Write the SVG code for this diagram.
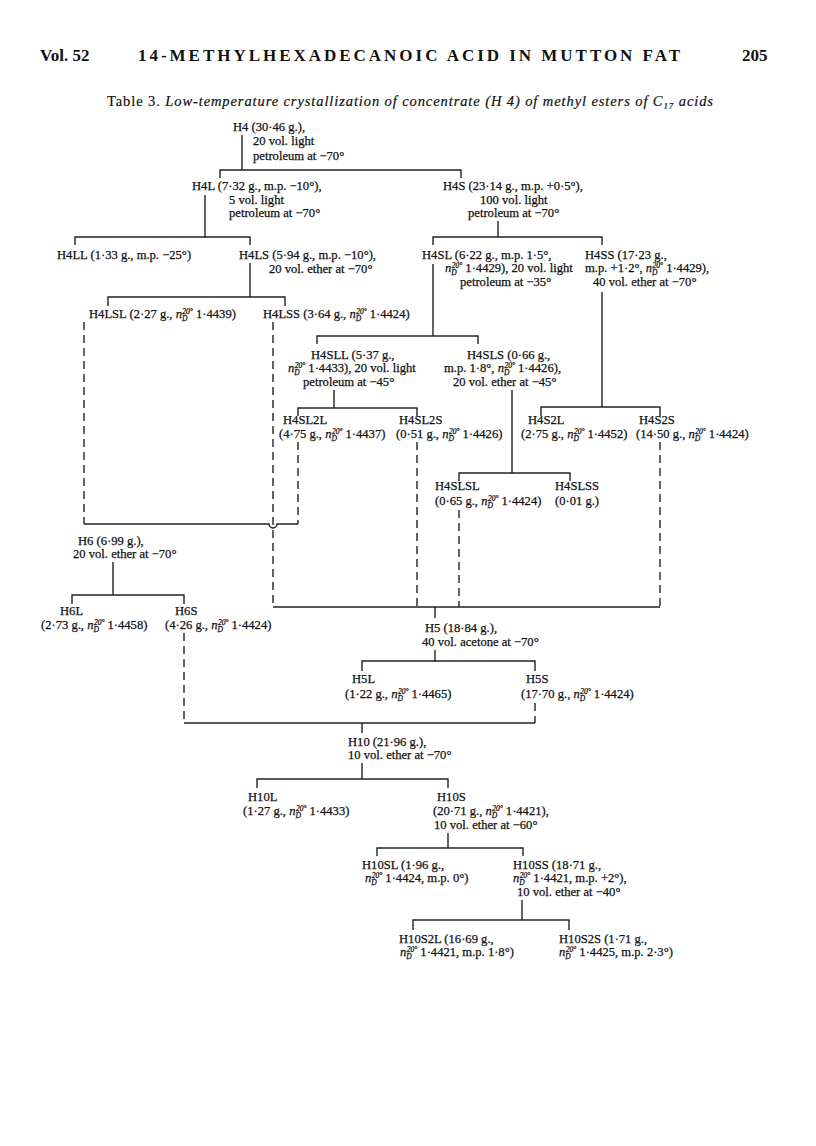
<svg xmlns="http://www.w3.org/2000/svg" width="816" height="1146" viewBox="0 0 816 1146">
<style>
.t{font-family:"Liberation Serif","Times New Roman",serif;font-size:12.6px;fill:#111;stroke:#111;stroke-width:0.25}
.h{font-family:"Liberation Serif","Times New Roman",serif;font-size:17px;font-weight:bold;fill:#111}
.ti{font-family:"Liberation Serif","Times New Roman",serif;font-size:14.5px;fill:#111;stroke:#111;stroke-width:0.2}
.i{font-style:italic}
.s{font-size:7.5px;font-style:italic}
.c line,.c path{stroke:#222;stroke-width:1.4;fill:none}
.c .d{stroke-dasharray:8 5}
</style>
<rect width="816" height="1146" fill="#fff"/>
<g id="header">
<text class="h" x="40" y="61">Vol. 52</text>
<text class="h" x="138" y="61" textLength="542" lengthAdjust="spacing">14-METHYLHEXADECANOIC ACID IN MUTTON FAT</text>
<text class="h" x="742" y="61">205</text>
<text class="ti" x="107" y="106" textLength="606" lengthAdjust="spacing">Table 3. <tspan class="i">Low-temperature crystallization of concentrate (H 4) of methyl esters of C</tspan><tspan class="i" font-size="9" dy="3">17</tspan><tspan class="i" dy="-3"> acids</tspan></text>
</g>
<g id="connectors" class="c">
<line x1="242" y1="135" x2="242" y2="170"/>
<path d="M220,178V170H461V178"/>
<line x1="205" y1="195" x2="205" y2="237"/>
<path d="M75,245V237H250V245"/>
<line x1="498" y1="221" x2="498" y2="237"/>
<path d="M433,245V237H602V245"/>
<line x1="250" y1="263" x2="250" y2="297"/>
<path d="M108,306V297H285V306"/>
<line x1="433" y1="264" x2="433" y2="336"/>
<path d="M317,344V336H478V344"/>
<line x1="602" y1="292" x2="602" y2="407"/>
<path d="M541,416V407H660V416"/>
<line x1="334" y1="390" x2="334" y2="408"/>
<path d="M298,416V408H417V416"/>
<line x1="512" y1="390" x2="512" y2="473"/>
<path d="M459,481V473H570V481"/>
<line class="d" x1="84" y1="322" x2="84" y2="524"/>
<line class="d" x1="273" y1="322" x2="273" y2="607"/>
<line class="d" x1="298" y1="442" x2="298" y2="524"/>
<line class="d" x1="417" y1="442" x2="417" y2="607"/>
<line class="d" x1="459" y1="510" x2="459" y2="607"/>
<line class="d" x1="660" y1="442" x2="660" y2="607"/>
<path d="M84,524H269a4,4 0 0 0 8,0H298"/>
<path d="M273,607H660"/>
<line x1="113" y1="562" x2="113" y2="595"/>
<path d="M72,604V595H184V604"/>
<line class="d" x1="184" y1="633" x2="184" y2="723"/>
<line x1="435" y1="607" x2="435" y2="618"/>
<line x1="435" y1="650" x2="435" y2="661"/>
<path d="M362,671V661H535V671"/>
<line class="d" x1="535" y1="703" x2="535" y2="723"/>
<path d="M184,723H535"/>
<line x1="362" y1="723" x2="362" y2="733"/>
<line x1="362" y1="763" x2="362" y2="779"/>
<path d="M257,788V779H448V788"/>
<line x1="448" y1="833" x2="448" y2="848"/>
<path d="M377,856V848H523V856"/>
<line x1="522" y1="900" x2="522" y2="920"/>
<path d="M413,930V920H569V930"/>
</g>
<g id="H4">
<text class="t" x="233" y="131">H4 (30·46 g.),</text>
<text class="t" x="253" y="145">20 vol. light</text>
<text class="t" x="253" y="160">petroleum at −70°</text>
</g>
<g id="H4L">
<text class="t" x="192" y="190">H4L (7·32 g., m.p. −10°),</text>
<text class="t" x="229" y="204">5 vol. light</text>
<text class="t" x="229" y="217">petroleum at −70°</text>
</g>
<g id="H4S">
<text class="t" x="443" y="190">H4S (23·14 g., m.p. +0·5°),</text>
<text class="t" x="480" y="204">100 vol. light</text>
<text class="t" x="468" y="217">petroleum at −70°</text>
</g>
<g id="H4LL">
<text class="t" x="57" y="259">H4LL (1·33 g., m.p. −25°)</text>
</g>
<g id="H4LS">
<text class="t" x="239" y="259">H4LS (5·94 g., m.p. −10°),</text>
<text class="t" x="269" y="273">20 vol. ether at −70°</text>
</g>
<g id="H4LSL">
<text class="t" x="89" y="318">H4LSL (2·27 g., <tspan class="i">n</tspan><tspan class="s" dy="3">D</tspan><tspan class="s" dx="-5" dy="-7.5">20°</tspan><tspan dy="4.5"> 1·4439)</tspan></text>
</g>
<g id="H4LSS">
<text class="t" x="263" y="318">H4LSS (3·64 g., <tspan class="i">n</tspan><tspan class="s" dy="3">D</tspan><tspan class="s" dx="-5" dy="-7.5">20°</tspan><tspan dy="4.5"> 1·4424)</tspan></text>
</g>
<g id="H4SL">
<text class="t" x="422" y="259">H4SL (6·22 g., m.p. 1·5°,</text>
<text class="t" x="445" y="272"><tspan class="i">n</tspan><tspan class="s" dy="3">D</tspan><tspan class="s" dx="-5" dy="-7.5">20°</tspan><tspan dy="4.5"> 1·4429), 20 vol. light</tspan></text>
<text class="t" x="460" y="286">petroleum at −35°</text>
</g>
<g id="H4SS">
<text class="t" x="585" y="259">H4SS (17·23 g.,</text>
<text class="t" x="585" y="272">m.p. +1·2°, <tspan class="i">n</tspan><tspan class="s" dy="3">D</tspan><tspan class="s" dx="-5" dy="-7.5">20°</tspan><tspan dy="4.5"> 1·4429),</tspan></text>
<text class="t" x="593" y="286">40 vol. ether at −70°</text>
</g>
<g id="H4SLL">
<text class="t" x="311" y="359">H4SLL (5·37 g.,</text>
<text class="t" x="288" y="372"><tspan class="i">n</tspan><tspan class="s" dy="3">D</tspan><tspan class="s" dx="-5" dy="-7.5">20°</tspan><tspan dy="4.5"> 1·4433), 20 vol. light</tspan></text>
<text class="t" x="303" y="386">petroleum at −45°</text>
</g>
<g id="H4SLS">
<text class="t" x="467" y="359">H4SLS (0·66 g.,</text>
<text class="t" x="444" y="372">m.p. 1·8°, <tspan class="i">n</tspan><tspan class="s" dy="3">D</tspan><tspan class="s" dx="-5" dy="-7.5">20°</tspan><tspan dy="4.5"> 1·4426),</tspan></text>
<text class="t" x="453" y="386">20 vol. ether at −45°</text>
</g>
<g id="H4SL2L">
<text class="t" x="283" y="424">H4SL2L</text>
<text class="t" x="279" y="438">(4·75 g., <tspan class="i">n</tspan><tspan class="s" dy="3">D</tspan><tspan class="s" dx="-5" dy="-7.5">20°</tspan><tspan dy="4.5"> 1·4437)</tspan></text>
</g>
<g id="H4SL2S">
<text class="t" x="399" y="424">H4SL2S</text>
<text class="t" x="396" y="438">(0·51 g., <tspan class="i">n</tspan><tspan class="s" dy="3">D</tspan><tspan class="s" dx="-5" dy="-7.5">20°</tspan><tspan dy="4.5"> 1·4426)</tspan></text>
</g>
<g id="H4S2L">
<text class="t" x="528" y="424">H4S2L</text>
<text class="t" x="521" y="438">(2·75 g., <tspan class="i">n</tspan><tspan class="s" dy="3">D</tspan><tspan class="s" dx="-5" dy="-7.5">20°</tspan><tspan dy="4.5"> 1·4452)</tspan></text>
</g>
<g id="H4S2S">
<text class="t" x="639" y="424">H4S2S</text>
<text class="t" x="636" y="438">(14·50 g., <tspan class="i">n</tspan><tspan class="s" dy="3">D</tspan><tspan class="s" dx="-5" dy="-7.5">20°</tspan><tspan dy="4.5"> 1·4424)</tspan></text>
</g>
<g id="H4SLSL">
<text class="t" x="435" y="490">H4SLSL</text>
<text class="t" x="435" y="505">(0·65 g., <tspan class="i">n</tspan><tspan class="s" dy="3">D</tspan><tspan class="s" dx="-5" dy="-7.5">20°</tspan><tspan dy="4.5"> 1·4424)</tspan></text>
</g>
<g id="H4SLSS">
<text class="t" x="555" y="490">H4SLSS</text>
<text class="t" x="555" y="505">(0·01 g.)</text>
</g>
<g id="H6">
<text class="t" x="78" y="545">H6 (6·99 g.),</text>
<text class="t" x="73" y="558">20 vol. ether at −70°</text>
</g>
<g id="H6L">
<text class="t" x="60" y="615">H6L</text>
<text class="t" x="41" y="629">(2·73 g., <tspan class="i">n</tspan><tspan class="s" dy="3">D</tspan><tspan class="s" dx="-5" dy="-7.5">20°</tspan><tspan dy="4.5"> 1·4458)</tspan></text>
</g>
<g id="H6S">
<text class="t" x="175" y="615">H6S</text>
<text class="t" x="165" y="629">(4·26 g., <tspan class="i">n</tspan><tspan class="s" dy="3">D</tspan><tspan class="s" dx="-5" dy="-7.5">20°</tspan><tspan dy="4.5"> 1·4424)</tspan></text>
</g>
<g id="H5">
<text class="t" x="425" y="632">H5 (18·84 g.),</text>
<text class="t" x="422" y="646">40 vol. acetone at −70°</text>
</g>
<g id="H5L">
<text class="t" x="352" y="683">H5L</text>
<text class="t" x="345" y="698">(1·22 g., <tspan class="i">n</tspan><tspan class="s" dy="3">D</tspan><tspan class="s" dx="-5" dy="-7.5">20°</tspan><tspan dy="4.5"> 1·4465)</tspan></text>
</g>
<g id="H5S">
<text class="t" x="526" y="683">H5S</text>
<text class="t" x="521" y="698">(17·70 g., <tspan class="i">n</tspan><tspan class="s" dy="3">D</tspan><tspan class="s" dx="-5" dy="-7.5">20°</tspan><tspan dy="4.5"> 1·4424)</tspan></text>
</g>
<g id="H10">
<text class="t" x="348" y="746">H10 (21·96 g.),</text>
<text class="t" x="348" y="759">10 vol. ether at −70°</text>
</g>
<g id="H10L">
<text class="t" x="248" y="801">H10L</text>
<text class="t" x="243" y="815">(1·27 g., <tspan class="i">n</tspan><tspan class="s" dy="3">D</tspan><tspan class="s" dx="-5" dy="-7.5">20°</tspan><tspan dy="4.5"> 1·4433)</tspan></text>
</g>
<g id="H10S">
<text class="t" x="437" y="801">H10S</text>
<text class="t" x="433" y="815">(20·71 g., <tspan class="i">n</tspan><tspan class="s" dy="3">D</tspan><tspan class="s" dx="-5" dy="-7.5">20°</tspan><tspan dy="4.5"> 1·4421),</tspan></text>
<text class="t" x="434" y="829">10 vol. ether at −60°</text>
</g>
<g id="H10SL">
<text class="t" x="362" y="869">H10SL (1·96 g.,</text>
<text class="t" x="365" y="882"><tspan class="i">n</tspan><tspan class="s" dy="3">D</tspan><tspan class="s" dx="-5" dy="-7.5">20°</tspan><tspan dy="4.5"> 1·4424, m.p. 0°)</tspan></text>
</g>
<g id="H10SS">
<text class="t" x="513" y="869">H10SS (18·71 g.,</text>
<text class="t" x="513" y="882"><tspan class="i">n</tspan><tspan class="s" dy="3">D</tspan><tspan class="s" dx="-5" dy="-7.5">20°</tspan><tspan dy="4.5"> 1·4421, m.p. +2°),</tspan></text>
<text class="t" x="517" y="896">10 vol. ether at −40°</text>
</g>
<g id="H10S2L">
<text class="t" x="399" y="943">H10S2L (16·69 g.,</text>
<text class="t" x="400" y="956"><tspan class="i">n</tspan><tspan class="s" dy="3">D</tspan><tspan class="s" dx="-5" dy="-7.5">20°</tspan><tspan dy="4.5"> 1·4421, m.p. 1·8°)</tspan></text>
</g>
<g id="H10S2S">
<text class="t" x="559" y="943">H10S2S (1·71 g.,</text>
<text class="t" x="559" y="956"><tspan class="i">n</tspan><tspan class="s" dy="3">D</tspan><tspan class="s" dx="-5" dy="-7.5">20°</tspan><tspan dy="4.5"> 1·4425, m.p. 2·3°)</tspan></text>
</g>
</svg>
